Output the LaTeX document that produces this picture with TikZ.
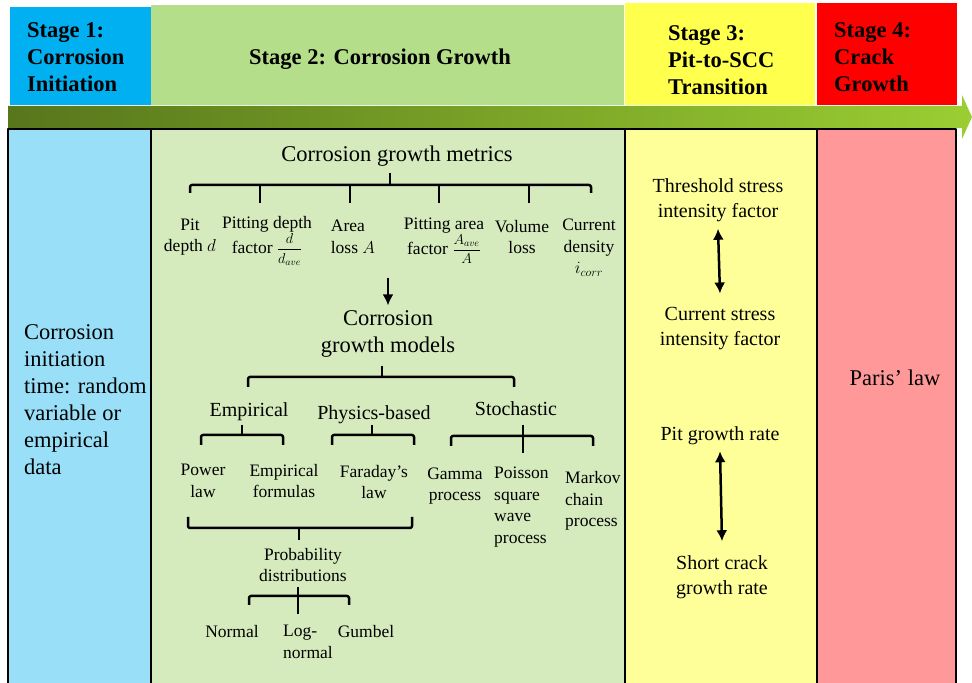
\documentclass[tikz,border=0pt]{standalone}
\usepackage{amsmath}
\usepackage{fontspec}
\setmainfont{Liberation Serif}
\usepackage{tikz}
\usetikzlibrary{arrows.meta}

\definecolor{hdrblue}{RGB}{0,176,240}
\definecolor{hdrgreen}{RGB}{180,222,138}
\definecolor{hdryellow}{RGB}{255,255,77}
\definecolor{hdrred}{RGB}{255,0,0}
\definecolor{panblue}{RGB}{153,223,248}
\definecolor{pangreen}{RGB}{213,235,189}
\definecolor{panyellow}{RGB}{255,255,153}
\definecolor{panred}{RGB}{255,153,153}
\definecolor{arrowdark}{RGB}{88,118,28}
\definecolor{arrowlight}{RGB}{154,206,50}

\begin{document}
\begin{tikzpicture}[>={Latex[length=11bp,width=11bp]},line join=round,
  stagetxt/.style={font=\bfseries\fontsize{22.5bp}{27bp}\selectfont,inner sep=0pt,align=left},
  bigtxt/.style={font=\fontsize{22.5bp}{27bp}\selectfont,inner sep=0pt,align=center},
  midtxt/.style={font=\fontsize{20bp}{25bp}\selectfont,inner sep=0pt,align=center},
  itemtxt/.style={font=\fontsize{17.5bp}{21.5bp}\selectfont,inner sep=0pt,align=center},
  brace/.style={line width=2.5bp,rounded corners=2bp},
  dblarrow/.style={<->,line width=2.5bp}]
  \useasboundingbox (0bp,0bp) rectangle (972bp,683bp);
  \clip (0bp,0bp) rectangle (972bp,683bp);
%%
  % Stage headers
  \fill [hdrblue] (10bp,578bp) rectangle (151bp,676bp);
  \fill [hdrgreen] (151bp,578bp) rectangle (624bp,678bp);
  \fill [hdryellow] (625bp,578bp) rectangle (815bp,680bp);
  \fill [hdrred] (817bp,578bp) rectangle (957bp,680bp);
  % Time line
  \shade [left color=arrowdark,right color=arrowlight] (8bp,555bp) -- (962bp,555bp) -- (962bp,544bp)
    -- (972bp,566bp) -- (962bp,588bp) -- (962bp,577bp) -- (8bp,577bp) -- cycle;
  % Stage panels
  \filldraw [fill=panblue,line width=2bp] (8bp,-10bp) rectangle (151bp,554bp);
  \filldraw [fill=pangreen,line width=2bp] (151bp,-10bp) rectangle (625bp,554bp);
  \filldraw [fill=panyellow,line width=2bp] (625bp,-10bp) rectangle (817bp,554bp);
  \filldraw [fill=panred,line width=2bp] (817bp,-10bp) rectangle (956bp,554bp);
%
  % Node: stage titles
  \node [stagetxt,anchor=west] (st1) at (27bp,626bp) {Stage 1:\\Corrosion\\Initiation};
  \node [stagetxt] (st2) at (380bp,624bp) {Stage 2: Corrosion Growth};
  \node [stagetxt,anchor=west] (st3) at (668bp,623bp) {Stage 3:\\Pit-to-SCC\\Transition};
  \node [stagetxt,anchor=west] (st4) at (834bp,626bp) {Stage 4:\\Crack\\Growth};
%
  % Node: init
  \node [bigtxt,align=left,anchor=west] (init) at (24bp,283bp)
    {Corrosion\\initiation\\time: random\\variable or\\empirical\\data};
%
  % Node: metrics
  \node [bigtxt] (metrics) at (397bp,527bp) {Corrosion growth metrics};
  \node [itemtxt] (pit) at (190bp,446bp) {Pit\\depth $d$};
  \node [itemtxt] (pdf) at (267bp,442bp) {Pitting depth\\factor {\fontsize{14bp}{16bp}\selectfont$\dfrac{d}{d_{ave}}$}};
  \node [itemtxt,align=left] (area) at (353bp,446bp) {Area\\loss $A$};
  \node [itemtxt] (paf) at (444bp,442bp) {Pitting area\\factor {\fontsize{14bp}{16bp}\selectfont$\dfrac{A_{ave}}{A}$}};
  \node [itemtxt] (vol) at (522bp,446bp) {Volume\\loss};
  \node [itemtxt] (cd) at (589bp,435bp) {Current\\density\\$i_{corr}$};
  % Brace: metrics
  \draw [brace] (190bp,490bp) -- (190bp,498bp) -- (591bp,498bp) -- (591bp,490bp);
  \draw [brace] (390bp,510bp) -- (390bp,498bp);
  \draw [brace] (260bp,498bp) -- (260bp,480bp);
  \draw [brace] (350bp,498bp) -- (350bp,480bp);
  \draw [brace] (439bp,498bp) -- (439bp,480bp);
  \draw [brace] (529bp,498bp) -- (529bp,480bp);
%
  % Node: models
  \node [bigtxt] (models) at (388bp,349bp) {Corrosion\\growth models};
  % Edge: metrics -> models
  \coordinate (mtail) at (388bp,405bp);
  \draw [->,line width=2.5bp] (mtail) -- ([yshift=5bp]models.north);
  % Brace: models
  \draw [brace] (248bp,296bp) -- (248bp,306bp) -- (514bp,306bp) -- (514bp,296bp);
  \draw [brace] (382bp,317bp) -- (382bp,306bp);
%
  % Node: model families
  \node [midtxt] (emp) at (249bp,271bp) {Empirical};
  \node [midtxt] (phys) at (374bp,268bp) {Physics-based};
  \node [midtxt] (stoch) at (516bp,274bp) {Stochastic};
  \draw [brace] (201bp,238bp) -- (201bp,248bp) -- (283bp,248bp) -- (283bp,238bp);
  \draw [brace] (242bp,258bp) -- (242bp,248bp);
  \draw [brace] (332bp,238bp) -- (332bp,248bp) -- (414bp,248bp) -- (414bp,238bp);
  \draw [brace] (372bp,258bp) -- (372bp,248bp);
  \draw [brace] (451bp,237bp) -- (451bp,247bp) -- (593bp,247bp) -- (593bp,237bp);
  \draw [brace] (523bp,258bp) -- (523bp,230bp);
%
  % Node: model types
  \node [itemtxt] (power) at (203bp,202bp) {Power\\law};
  \node [itemtxt] (empf) at (284bp,202bp) {Empirical\\formulas};
  \node [itemtxt] (faraday) at (374bp,201bp) {Faraday's\\law};
  \node [itemtxt] (gamma) at (455bp,197bp) {Gamma\\process};
  \node [itemtxt,align=left,anchor=west] (poisson) at (494bp,176bp) {Poisson\\square\\wave\\process};
  \node [itemtxt,align=left,anchor=west] (markov) at (565bp,182bp) {Markov\\chain\\process};
  % Brace: probability
  \draw [brace] (188bp,166bp) -- (188bp,155bp) -- (412bp,155bp) -- (412bp,166bp);
  \draw [brace] (299bp,155bp) -- (299bp,143bp);
  \node [itemtxt] (prob) at (303bp,118bp) {Probability\\distributions};
  \draw [brace] (249bp,78bp) -- (249bp,87bp) -- (349bp,87bp) -- (349bp,78bp);
  \draw [brace] (298bp,96bp) -- (298bp,69bp);
  \node [itemtxt] (normal) at (232bp,51bp) {Normal};
  \node [itemtxt,align=left,anchor=west] (lognormal) at (283bp,41bp) {Log-\\normal};
  \node [itemtxt] (gumbel) at (366bp,51bp) {Gumbel};
%
  % Node: transition
  \node [midtxt] (thr) at (718bp,483bp) {Threshold stress\\intensity factor};
  \node [midtxt] (cur) at (720bp,354bp) {Current stress\\intensity factor};
  \node [midtxt] (pgr) at (720bp,247bp) {Pit growth rate};
  \node [midtxt] (scg) at (722bp,106bp) {Short crack\\growth rate};
  % Edge: thr <-> cur
  \draw [dblarrow] ([yshift=-7bp]thr.south) -- ([yshift=14bp]cur.north);
  % Edge: pgr <-> scg
  \draw [dblarrow] ([yshift=-6bp]pgr.south) -- ([yshift=14bp]scg.north);
%
  % Node: paris
  \node [bigtxt] (paris) at (895bp,305bp) {Paris' law};
%
\end{tikzpicture}
\end{document}
